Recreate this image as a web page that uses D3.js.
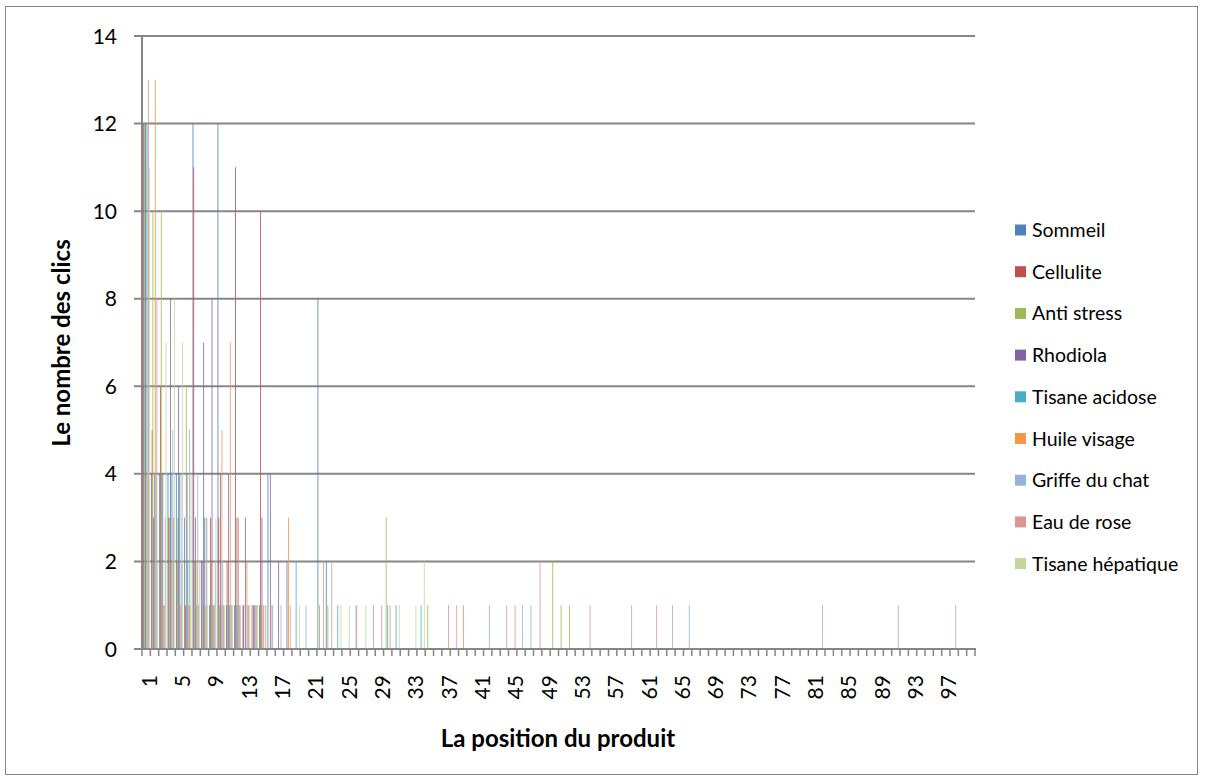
<!DOCTYPE html>
<html><head><meta charset="utf-8">
<script src="https://cdn.jsdelivr.net/npm/d3@7"></script>
<style>
html,body{margin:0;padding:0;background:#fff;}
svg{display:block;font-family:Lato,"Open Sans",sans-serif;}
</style></head>
<body>
<svg id="chart" width="1205" height="782"></svg>
<script>
const N = 100;
const positions = d3.range(1, N + 1);
const tickLabels = d3.range(1, N + 1, 4);
const seriesNames = ["Sommeil","Cellulite","Anti stress","Rhodiola","Tisane acidose","Huile visage","Griffe du chat","Eau de rose","Tisane hépatique"];
const seriesColors = ["#4F81BD","#C0504D","#9BBB59","#8064A2","#4BACC6","#F79646","#95B3D7","#D99694","#C3D69B"];
const pad = a => a.concat(new Array(N - a.length).fill(0));

const sommeil = pad([12,4,4,4,4,3,12,2,1,12,1,1,1,0,1,4,0,0,0,0,
  0,8,2]);
const cellulite = pad([12,5,6,3,2,1,11,2,3,3,2,11,1,1,10]);
const antiStress = pad([12,10,10,3,3,6,2,1,2,1,1,1,0,0,1,0,0,0,0,0,
  0,1,1,0,0,0,0,0,0,3,0,0,0,0,1,0,0,0,0,0,
  0,0,0,0,0,0,0,0,0,2,1,1]);
const rhodiola = pad([12,3,4,8,6,4,3,7,8,4,4,3,3,1,3,4,2,2]);
const tisaneAcidose = pad([12,4,4,4,4,2,1,3,1,1,1,1,0,1,0,0,0,0,2,0,
  0,0,0,1,0,0,0,0,0,1,1,0,0,1]);
const huileVisage = pad([4,13,1,2,1,1,2,1,1,5,7,3,2,1,1,1,0,3,0,0,
  0,0,0,0,0,0,0,0,0,0,0,0,0,0,0,0,0,0,1]);
const griffeDuChat = pad([12,4,1,5,4,5,4,3,1,2,1,1,1,1,0,1,1,0,0,1,
  0,0,0,0,0,1,0,0,0,0,0,0,0,0,0,0,0,0,0,0,
  0,1,0,0,0,1,1,0,0,0,0,0,0,0,0,0,0,0,0,0,
  0,0,0,1,0,1,0,0,0,0,0,0,0,0,0,0,0,0,0,0,
  0,1,0,0,0,0,0,0,0,0,0,0,0,0,0,0,0,1]);
const eauDeRose = pad([13,8,3,3,2,1,1,3,2,1,1,1,1,1,1,0,0,1,0,0,
  0,2,2,0,0,1,0,1,1,1,0,0,0,0,0,0,1,1,0,0,
  0,0,0,1,1,0,0,2,0,0,0,0,0,1,0,0,0,0,1,0,
  0,1,0,0,0,0,0,0,0,0,0,0,0,0,0,0,0,0,0,0,
  0,0,0,0,0,0,0,0,0,0,1]);
const tisaneHepatique = pad([11,2,7,8,7,4,2,1,3,1,1,0,1,1,1,0,0,0,1,0,
  0,0,0,1,1,0,1,0,0,0,1,0,1,2]);
const seriesValues = [sommeil,cellulite,antiStress,rhodiola,tisaneAcidose,huileVisage,griffeDuChat,eauDeRose,tisaneHepatique];
const yTicks = [0,2,4,6,8,10,12,14];

const svg = d3.select("#chart");
const m = {left:142, right:975, top:36, bottom:649};
const gridColor = "#868686";

// outer border
svg.append("rect").attr("x",5.5).attr("y",6.5).attr("width",1192).attr("height",768)
  .attr("fill","#fff").attr("stroke","#868686").attr("stroke-width",1);

const x = d3.scaleBand().domain(positions).range([m.left, m.right]).paddingInner(0).paddingOuter(0);
const xs = d3.scaleBand().domain(d3.range(seriesNames.length)).range([0, x.bandwidth()]).paddingInner(0).paddingOuter(0.75);
const y = d3.scaleLinear().domain([0,14]).range([m.bottom, m.top]);

// gridlines
svg.append("g").selectAll("line").data(yTicks).join("line")
  .attr("x1", m.left - 8).attr("x2", m.right)
  .attr("y1", d => y(d)).attr("y2", d => y(d))
  .attr("stroke", gridColor).attr("stroke-width", 2);

// bars
const flat = [];
seriesValues.forEach((arr, s) => arr.forEach((v, i) => { if (v > 0) flat.push({s, pos: positions[i], v}); }));
svg.append("g").selectAll("rect").data(flat).join("rect")
  .attr("x", d => x(d.pos) + xs(d.s))
  .attr("width", xs.bandwidth())
  .attr("y", d => y(d.v))
  .attr("height", d => y(0) - y(d.v))
  .attr("fill", d => seriesColors[d.s]);

// y axis line
svg.append("line").attr("x1", m.left).attr("x2", m.left).attr("y1", m.top).attr("y2", m.bottom)
  .attr("stroke", gridColor).attr("stroke-width", 2);
// x axis line
svg.append("line").attr("x1", m.left - 8).attr("x2", m.right + 1).attr("y1", m.bottom).attr("y2", m.bottom)
  .attr("stroke", gridColor).attr("stroke-width", 2);
// x ticks at category boundaries
const bounds = positions.map(p => x(p)).concat([m.right]);
svg.append("g").selectAll("line").data(bounds).join("line")
  .attr("x1", d => d).attr("x2", d => d).attr("y1", m.bottom).attr("y2", m.bottom + 7)
  .attr("stroke", gridColor).attr("stroke-width", 1.5);

// y tick labels
svg.append("g").selectAll("text").data(yTicks).join("text")
  .attr("x", 117).attr("y", d => y(d)).attr("dy","0.36em")
  .attr("text-anchor","end").attr("font-size", 21).attr("fill","#000")
  .text(d => d);

// x tick labels
svg.append("g").selectAll("text").data(tickLabels).join("text")
  .attr("transform", d => `translate(${x(d) + x.bandwidth()/2 + 3},${m.bottom + 26}) rotate(-90)`)
  .attr("dy","0.36em").attr("text-anchor","end").attr("font-size", 21).attr("fill","#000")
  .text(d => d);

// axis titles
svg.append("text").attr("x", 558).attr("y", 747).attr("text-anchor","middle")
  .attr("font-size", 24).attr("font-weight","bold").text("La position du produit");
svg.append("text").attr("transform","translate(70,343) rotate(-90)").attr("text-anchor","middle")
  .attr("font-size", 24).attr("font-weight","bold").text("Le nombre des clics");

// legend
const lg = svg.append("g");
seriesNames.forEach((name, i) => {
  const cy = 230 + i * 41.7;
  lg.append("rect").attr("x", 1015).attr("y", cy - 5.5).attr("width", 11).attr("height", 11).attr("fill", seriesColors[i]);
  lg.append("text").attr("x", 1032).attr("y", cy).attr("dy","0.36em").attr("font-size", 19.5).text(name);
});
</script>
</body></html>
